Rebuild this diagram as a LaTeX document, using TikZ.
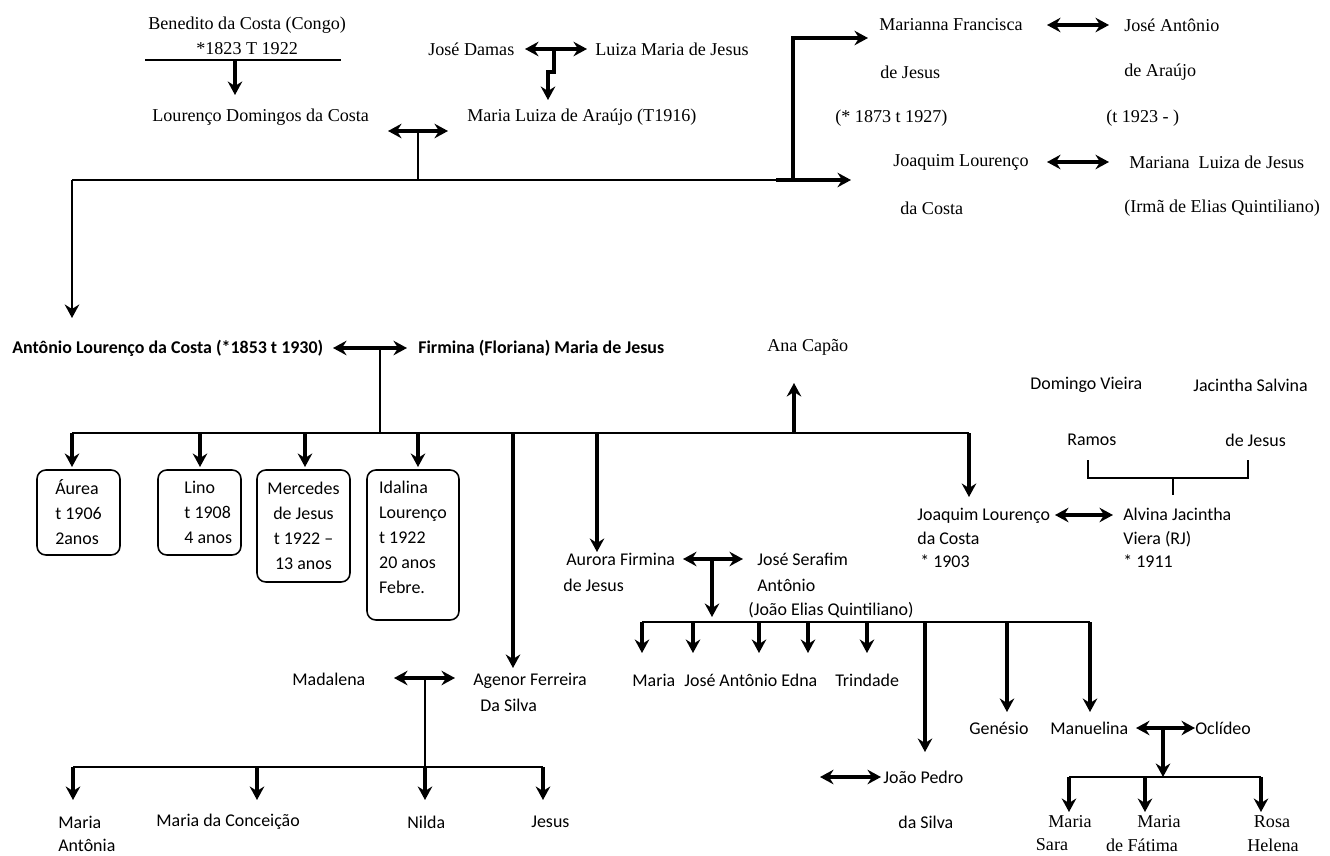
\documentclass[tikz,border=0pt]{standalone}
\usepackage{fontspec}
\setmainfont{Liberation Serif}
\newfontfamily\calibrifont{Carlito}
\usepackage{tikz}
\usetikzlibrary{arrows.meta}
\usetikzlibrary{positioning}
\tikzset{%
  >={Stealth[length=2.7mm,width=2.9mm,inset=0.9mm]},
  % Specifications for style of nodes:
      serifname/.style = {inner sep=0pt, anchor=west,
                          font=\fontsize{10.3}{13}\selectfont},
       sansname/.style = {inner sep=0pt, anchor=west, align=left,
                          font=\calibrifont\fontsize{10.2}{13.3}\selectfont},
       boldname/.style = {sansname,
                          font=\calibrifont\bfseries\fontsize{10.2}{13.3}\selectfont},
       childbox/.style = {draw=black, rounded corners=5pt, line width=0.9pt,
                          inner sep=0pt, align=left,
                          font=\calibrifont\fontsize{10.2}{14.2}\selectfont},
  % Specifications for style of lines:
        famline/.style = {line width=0.9pt},
        descent/.style = {line width=1.8pt, ->},
         couple/.style = {line width=1.8pt, <->},
}

\begin{document}
\begin{tikzpicture}[x=0.02cm, y=-0.02cm]
  \useasboundingbox (0,0) rectangle (1330,856);
  % Specification of nodes (position, etc.)
  % top: ancestors
  \node (beneditoA) [serifname] at (148,25)  {Benedito da Costa (Congo)};
  \node (beneditoB) [serifname] at (196,49)  {*1823 T 1922};
  \node (lourDom)   [serifname] at (152,117) {Lourenço Domingos da Costa};
  \node (damas)     [serifname] at (428,49)  {José Damas};
  \node (luizaMJ)   [serifname] at (595,49)  {Luiza Maria de Jesus};
  \node (mariaLA)   [serifname] at (467,117) {Maria Luiza de Araújo (T1916)};
  \node (mariannaA) [serifname] at (879,25)  {Marianna Francisca};
  \node (mariannaB) [serifname] at (880,72)  {de Jesus};
  \node (mariannaC) [serifname] at (835,118) {(* 1873 t 1927)};
  \node (joseAA)    [serifname] at (1124,25) {José Antônio};
  \node (joseAB)    [serifname] at (1124,72) {de Araújo};
  \node (joseAC)    [serifname] at (1106,118) {(t 1923 - )};
  \node (joaqTopA)  [serifname] at (893,162) {Joaquim Lourenço};
  \node (joaqTopB)  [serifname] at (900,208) {da Costa};
  \node (marianaA)  [serifname] at (1129,162) {Mariana~~Luiza de Jesus};
  \node (marianaB)  [serifname] at (1124,208) {(Irmã de Elias Quintiliano)};

  % middle: Antônio and Firmina with children
  \node (antonio)   [boldname] at (12,348)  {Antônio Lourenço da Costa (*1853 t 1930)};
  \node (firmina)   [boldname] at (418,348) {Firmina (Floriana) Maria de Jesus};
  \node (anaCapao)  [serifname] at (767,347) {Ana Capão};
  \node (aurea)     [childbox, minimum width=1.66cm, minimum height=1.7cm]
                    at (78.5,512.5) {Áurea\\t 1906\\2anos};
  \node (lino)      [childbox, minimum width=1.66cm, minimum height=1.7cm]
                    at (199.5,512.5) {\hspace*{10pt}Lino\\\hspace*{10pt}t 1908\\\hspace*{10pt}4 anos};
  \node (mercedes)  [childbox, align=center, minimum width=1.86cm, minimum height=2.24cm]
                    at (303.5,526) {Mercedes\\de Jesus\\t 1922 –\\13 anos};
  \node (idalina)   [childbox, minimum width=1.84cm, minimum height=3cm]
                    at (413,545) {Idalina\\Lourenço\\t 1922\\20 anos\\Febre.\\[-5pt]\mbox{}};
  \node (domingoA)  [sansname] at (1030,385) {Domingo Vieira};
  \node (domingoB)  [sansname] at (1067,440) {Ramos};
  \node (jacinthaA) [sansname] at (1193,385) {Jacintha Salvina};
  \node (jacinthaB) [sansname] at (1225,440) {de Jesus};
  \node (joaquim)   [sansname] at (917,538) {Joaquim Lourenço\\da Costa\\\,* 1903};
  \node (alvina)    [sansname] at (1123,538) {Alvina Jacintha\\Viera (RJ)\\* 1911};
  \node (aurora)    [sansname, font=\calibrifont\fontsize{10.2}{14.7}\selectfont]
                    at (563,572) {\,Aurora Firmina\\de Jesus};
  \node (serafim)   [sansname, font=\calibrifont\fontsize{10.2}{14.7}\selectfont]
                    at (757,572) {José Serafim\\Antônio};
  \node (quintil)   [sansname] at (748,610) {(João Elias Quintiliano)};
  \node (mariaC)    [sansname] at (632,680) {Maria};
  \node (joseAnt)   [sansname] at (684,680) {José Antônio};
  \node (edna)      [sansname] at (781,680) {Edna};
  \node (trindade)  [sansname] at (835,680) {Trindade};
  \node (madalena)  [sansname] at (292,679) {Madalena};
  \node (agenor)    [sansname, font=\calibrifont\fontsize{10.2}{14.7}\selectfont]
                    at (473,692) {Agenor Ferreira\\\hspace*{4pt}Da Silva};
  \node (mariaAnt)  [sansname, font=\calibrifont\fontsize{10.2}{13}\selectfont]
                    at (58,833.5) {Maria\\Antônia};
  \node (conceicao) [sansname] at (156,822) {Maria da Conceição};
  \node (nilda)     [sansname] at (407,822) {Nilda};
  \node (jesus)     [sansname] at (531,822) {Jesus};
  \node (joaoPedro) [sansname] at (883,777) {João Pedro};
  \node (daSilva)   [sansname] at (898,822) {da Silva};
  \node (genesio)   [sansname] at (969,728) {Genésio};
  \node (manuelina) [sansname] at (1050,728) {Manuelina};
  \node (oclideo)   [sansname] at (1195,728) {Oclídeo};
  \node (mariaSA)   [serifname, anchor=center] at (1070,822) {Maria};
  \node (mariaSB)   [serifname, anchor=center] at (1052,845) {Sara};
  \node (mariaFA)   [serifname, anchor=center] at (1159,822) {Maria};
  \node (mariaFB)   [serifname, anchor=center] at (1142,845) {de Fátima};
  \node (rosaA)     [serifname, anchor=center] at (1272,822) {Rosa};
  \node (rosaB)     [serifname, anchor=center] at (1273,845) {Helena};

  % Specification of junction points of the lines
  \coordinate (benL) at (145,60);   \coordinate (benR) at (341,60);
  \coordinate (benA) at (235,60);   \coordinate (benT) at (235,95);
  \coordinate (ldL) at (388,131);   \coordinate (ldR) at (448,131);
  \coordinate (ldM) at (418,131);
  \coordinate (dmL) at (525,49);    \coordinate (dmR) at (587,49);
  \coordinate (dmM) at (554,49);    \coordinate (dmT) at (548,100);
  \coordinate (topL) at (72,180);   \coordinate (topM) at (418,180);
  \coordinate (topK) at (776,180);  \coordinate (topV) at (793,180);
  \coordinate (topE) at (851,180);  \coordinate (topU) at (793,38);
  \coordinate (topN) at (868,38);   \coordinate (topD) at (72,318);
  \coordinate (mfL) at (1047,25);   \coordinate (mfR) at (1109,25);
  \coordinate (jlL) at (1047,162);  \coordinate (jlR) at (1109,162);
  \coordinate (alL) at (333,348);   \coordinate (alR) at (407,348);
  \coordinate (alM) at (380,348);
  \coordinate (midL) at (72,433);   \coordinate (midM) at (380,433);
  \coordinate (midR) at (969,433);
  \coordinate (agTop) at (513,433); \coordinate (agT) at (513,668);
  \coordinate (auTop) at (597,433); \coordinate (auT) at (597,552);
  \coordinate (acTop) at (794,433); \coordinate (acT) at (794,383);
  \coordinate (jqT) at (969,497);
  \coordinate (brL) at (1088,460);  \coordinate (brR) at (1248,460);
  \coordinate (brM) at (1173,478);  \coordinate (brT) at (1173,495);
  \coordinate (jaL) at (1055,515);  \coordinate (jaR) at (1113,515);
  \coordinate (asL) at (683,559);   \coordinate (asR) at (743,559);
  \coordinate (asM) at (712,559);   \coordinate (asT) at (712,617);
  \coordinate (kidL) at (642,622);  \coordinate (kidR) at (1090,622);
  \coordinate (jpTop) at (925,622); \coordinate (jpT) at (925,752);
  \coordinate (jpL) at (820,777);   \coordinate (jpR) at (881,777);
  \coordinate (moL) at (1136,728);  \coordinate (moR) at (1195,728);
  \coordinate (moM) at (1163,728);  \coordinate (moT) at (1163,777);
  \coordinate (grL) at (1069,777);  \coordinate (grR) at (1261,777);
  \coordinate (maL) at (394,678);   \coordinate (maR) at (455,678);
  \coordinate (maM) at (425,678);
  \coordinate (lowL) at (73,767);   \coordinate (lowR) at (543,767);
  \coordinate (lowN) at (425,767);  \coordinate (lowC) at (257,767);

  % Specification of lines between nodes specified above
  \draw[famline] (benL) -- (benR);
  \draw[descent] (benA) -- (benT);
  \draw[couple]  (ldL) -- (ldR);
  \draw[famline] (ldM) -- (topM);
  \draw[couple]  (dmL) -- (dmR);
  \draw[descent] (dmM) -- ++(0,23) -| (dmT);
  \draw[famline] (topL) -- (topK);
  \draw[descent] (topK) -- (topE);
  \draw[descent] (topV) -- (topU) -- (topN);
  \draw[line width=1.3pt, ->] (topL) -- (topD);
  \draw[couple]  (mfL) -- (mfR);
  \draw[couple]  (jlL) -- (jlR);

  \draw[couple]  (alL) -- (alR);
  \draw[famline] (alM) -- (midM);
  \draw[famline] (midL) -- (midR);
  \draw[descent] (midL) -- (72,467);
  \draw[descent] (200,433) -- (200,467);
  \draw[descent] (305,433) -- (305,467);
  \draw[descent] (418,433) -- (418,467);
  \draw[descent] (agTop) -- (agT);
  \draw[descent] (auTop) -- (auT);
  \draw[descent] (acTop) -- (acT);
  \draw[descent] (midR) -- (jqT);
  \draw[famline] (brL) |- (brM) -| (brR);
  \draw[famline] (brM) -- (brT);
  \draw[couple]  (jaL) -- (jaR);

  \draw[couple]  (asL) -- (asR);
  \draw[descent] (asM) -- (asT);
  \draw[famline] (kidL) -- (kidR);
  \draw[descent] (kidL) -- (642,653);
  \draw[descent] (693,622) -- (693,653);
  \draw[descent] (759,622) -- (759,653);
  \draw[descent] (808,622) -- (808,653);
  \draw[descent] (867,622) -- (867,653);
  \draw[descent] (jpTop) -- (jpT);
  \draw[couple]  (jpL) -- (jpR);
  \draw[descent] (1007,622) -- (1007,712);
  \draw[descent] (kidR) -- (1090,712);
  \draw[couple]  (moL) -- (moR);
  \draw[descent] (moM) -- (moT);
  \draw[famline] (grL) -- (grR);
  \draw[descent] (grL) -- (1069,812);
  \draw[descent] (1145,777) -- (1145,812);
  \draw[descent] (grR) -- (1261,812);

  \draw[couple]  (maL) -- (maR);
  \draw[famline] (maM) -- (lowN);
  \draw[famline] (lowL) -- (lowR);
  \draw[descent] (lowL) -- (73,800);
  \draw[descent] (lowC) -- (257,800);
  \draw[descent] (lowN) -- (425,800);
  \draw[descent] (lowR) -- (543,800);
\end{tikzpicture}
\end{document}
